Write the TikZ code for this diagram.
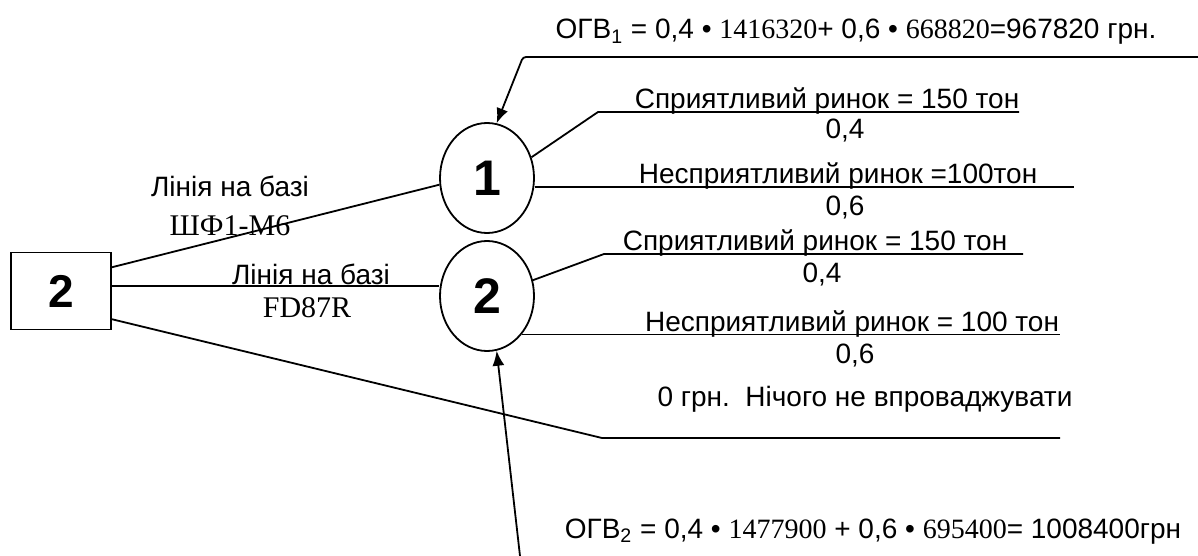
\documentclass[tikz,border=0pt]{standalone}
\usepackage{fontspec}
\setmainfont{Liberation Sans}
\newfontfamily\tms{Liberation Serif}
\usetikzlibrary{arrows.meta,shapes.geometric}

\begin{document}
\begin{tikzpicture}[x=0.5pt,y=-0.5pt, >={Latex[length=7.5pt,width=6pt]}, line width=0.9pt,
    decision/.style={rectangle, draw, minimum width=50pt, minimum height=38.5pt, font=\fontsize{23}{25}\selectfont\bfseries},
    chance/.style={ellipse, draw, minimum width=47pt, minimum height=55pt, inner sep=0pt, font=\fontsize{25}{27}\selectfont\bfseries},
    lbl/.style={anchor=base, inner sep=0pt, font=\fontsize{14}{16}\selectfont},
    rom/.style={anchor=base, inner sep=0pt, font=\fontsize{15}{17}\selectfont\tms}]
  \useasboundingbox (0,0) rectangle (1198,556);
  % decision and chance nodes
  \node[decision] (d) at (61,291) {2};
  \node[chance] (e1) at (487,178) {1};
  \node[chance] (e2) at (487,296) {2};
  % alternatives
  \node[lbl] (a1) at (230,196) {Лінія на базі};
  \node[rom] (a1b) at (230,235) {ШФ1-М6};
  \node[lbl] (a2) at (311,284) {Лінія на базі};
  \node[rom] (a2b) at (307,317) {FD87R};
  \coordinate (d2) at (111,286);
  \coordinate (n0) at (602,438);
  \coordinate (n0e) at (1060,438);
  \node[lbl] (n) at (865,406) {0 грн.\ \ Нічого не впроваджувати};
  \draw (d.25) -- (e1.188);
  \draw (d2) -- (d2 -| e2.west);
  \draw (d.-29) -- (n0) -- (n0e);
  % outcomes of 1
  \coordinate (k1) at (598,112);
  \coordinate (k1e) at (1019,112);
  \coordinate (k2e) at (1074,187);
  \node[lbl] (g1) at (827,109) {Сприятливий ринок = 150 тон};
  \node[lbl] (p1) at (845,139) {0,4};
  \node[lbl] (b1) at (838,183) {Несприятливий ринок =100тон};
  \node[lbl] (q1) at (845,215) {0,6};
  \draw (e1.25) -- (k1) -- (k1e);
  \draw (e1.east |- k2e) -- (k2e);
  % outcomes of 2
  \coordinate (k3) at (604,254);
  \coordinate (k3e) at (1023,254);
  \coordinate (k4e) at (1060,334);
  \node[lbl] (g2) at (815,250) {Сприятливий ринок = 150 тон};
  \node[lbl] (p2) at (822,282) {0,4};
  \node[lbl] (b2) at (852,331) {Несприятливий ринок = 100 тон};
  \node[lbl] (q2) at (855,363) {0,6};
  \draw (e2.19) -- (k3) -- (k3e);
  \draw (e2.-48) -- (e2.-48 -| k4e);
  % expected values
  \node[lbl] (v1) at (856,39) {ОГВ\textsubscript{1} = 0,4 • {\tms 1416320}+ 0,6 • {\tms 668820}=967820 грн.};
  \node[lbl] (v2) at (873,538) {ОГВ\textsubscript{2} = 0,4 • {\tms 1477900} + 0,6 • {\tms 695400}= 1008400грн};
  \coordinate (c1) at (1198,57);
  \coordinate (c2) at (523,57);
  \coordinate (c3) at (520,556);
  \draw[->, rounded corners=1.5pt] (c1) -- (c2) -- (e1.80);
  \draw[->] (c3) -- (e2.-80);
\end{tikzpicture}
\end{document}
